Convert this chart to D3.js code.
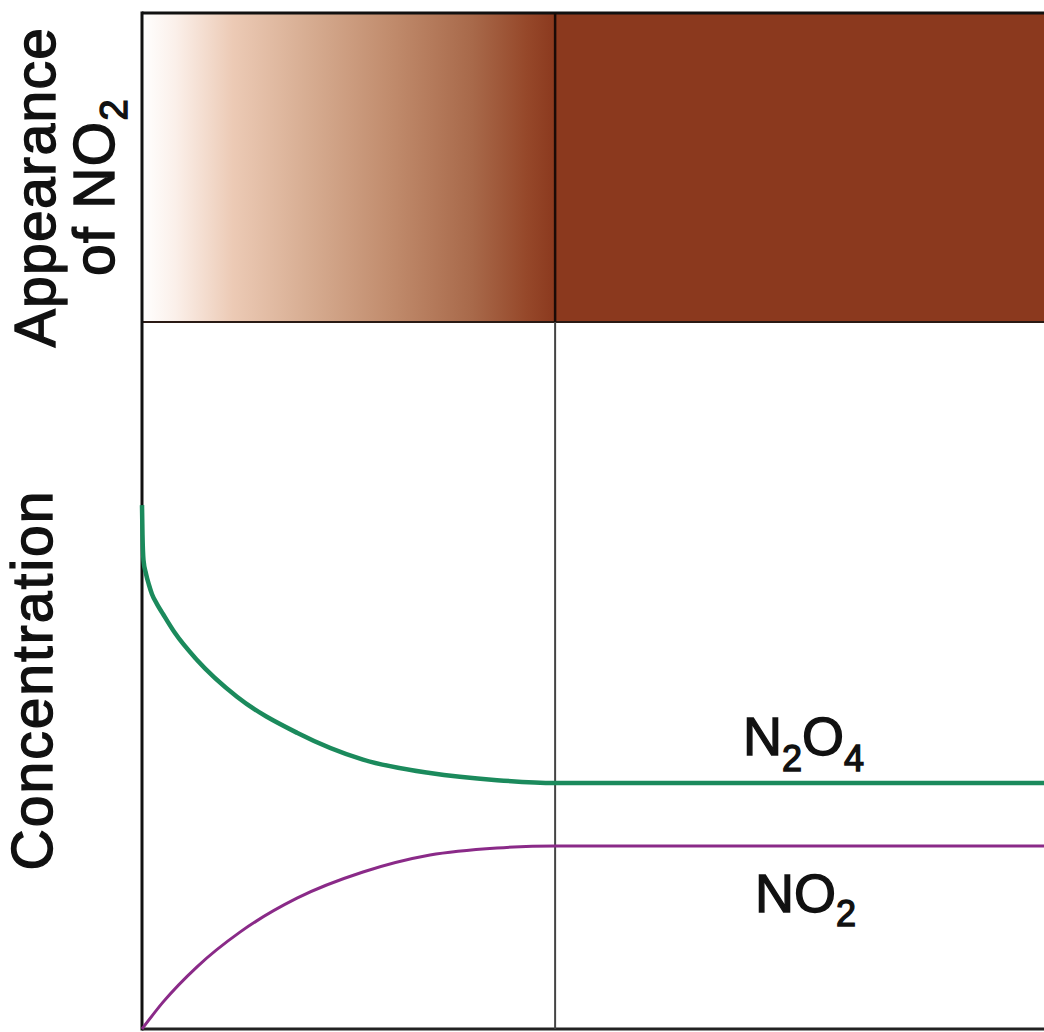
<!DOCTYPE html>
<html>
<head>
<meta charset="utf-8">
<script src="https://cdn.jsdelivr.net/npm/d3@7"></script>
<style>
  html, body { margin: 0; padding: 0; background: #fff; }
  svg { display: block; }
  text { font-family: "Liberation Sans", Arial, Helvetica, sans-serif; fill: #111; stroke: #111; stroke-width: 1.4px; }
</style>
</head>
<body>
<svg id="chart" width="1044" height="1032"></svg>
<script>
// ---- data ----
const timeDomain = [0, 100];
const concDomain = [0, 100];
const equilibriumTime = 45.8;

const n2o4Time  = [0, 0.055, 0.166, 0.443, 0.776, 1.109, 1.663, 2.328, 3.659, 6.098, 10.53, 17.18, 24.50, 31.93, 39.36, 45.8, 100];
const n2o4Conc  = [74.1, 69.9, 66.3, 64.4, 62.8, 61.5, 60.1, 58.7, 56.0, 52.2, 47.0, 41.9, 38.1, 36.2, 35.2, 34.8, 34.8];

const no2Time   = [0, 2.33, 6.10, 10.86, 17.18, 24.50, 31.93, 39.36, 45.8, 100];
const no2Conc   = [0, 3.8, 8.8, 13.7, 18.5, 22.2, 24.6, 25.6, 25.9, 25.9];

// ---- layout ----
const svg = d3.select("#chart");
const mLeft = 142, mRight = 1044, mTop = 13, panelBottom = 322, mBottom = 1029;

const x = d3.scaleLinear().domain(timeDomain).range([mLeft, mRight]);
const y = d3.scaleLinear().domain(concDomain).range([mBottom, panelBottom]);

// gradient for top panel
const defs = svg.append("defs");
const grad = defs.append("linearGradient").attr("id", "brownGrad")
  .attr("x1", "0%").attr("x2", "100%").attr("y1", "0%").attr("y2", "0%");
[[0, "#ffffff"], [0.08, "#fbf0ea"], [0.22, "#eccab5"], [0.4, "#d7ad92"], [0.6, "#c18c6d"],
 [0.8, "#a8694a"], [0.93, "#96482a"], [1, "#8b391e"]].forEach(([o, c]) =>
  grad.append("stop").attr("offset", o).attr("stop-color", c));

svg.append("rect")
  .attr("x", x(0)).attr("y", mTop)
  .attr("width", x(equilibriumTime) - x(0)).attr("height", panelBottom - mTop)
  .attr("fill", "url(#brownGrad)");
svg.append("rect")
  .attr("x", x(equilibriumTime)).attr("y", mTop)
  .attr("width", x(100) - x(equilibriumTime)).attr("height", panelBottom - mTop)
  .attr("fill", "#8b391e");

// frame lines
svg.append("line").attr("x1", mLeft).attr("x2", mRight).attr("y1", mTop).attr("y2", mTop)
  .attr("stroke", "#111").attr("stroke-width", 3);
svg.append("line").attr("x1", mLeft).attr("x2", mRight).attr("y1", panelBottom).attr("y2", panelBottom)
  .attr("stroke", "#2a1a14").attr("stroke-width", 2);
svg.append("line").attr("x1", mLeft).attr("x2", mRight).attr("y1", mBottom).attr("y2", mBottom)
  .attr("stroke", "#222").attr("stroke-width", 3);
// equilibrium vertical line
svg.append("line").attr("x1", x(equilibriumTime)).attr("x2", x(equilibriumTime))
  .attr("y1", mTop).attr("y2", panelBottom)
  .attr("stroke", "#1a0a06").attr("stroke-width", 2.5);
svg.append("line").attr("x1", x(equilibriumTime)).attr("x2", x(equilibriumTime))
  .attr("y1", panelBottom).attr("y2", mBottom)
  .attr("stroke", "#444").attr("stroke-width", 2);
// left axis
svg.append("line").attr("x1", mLeft).attr("x2", mLeft).attr("y1", mTop - 1.5).attr("y2", mBottom + 1.5)
  .attr("stroke", "#111").attr("stroke-width", 3);

// curves
const line = d3.line().x(d => x(d[0])).y(d => y(d[1])).curve(d3.curveMonotoneX);
svg.append("path")
  .datum(n2o4Time.map((t, i) => [t, n2o4Conc[i]]))
  .attr("d", line).attr("fill", "none")
  .attr("stroke", "#1b8a5c").attr("stroke-width", 4.5);
svg.append("path")
  .datum(no2Time.map((t, i) => [t, no2Conc[i]]))
  .attr("d", line).attr("fill", "none")
  .attr("stroke", "#8a2a88").attr("stroke-width", 3);

// series labels
const l1 = svg.append("text").attr("x", 743).attr("y", 755).attr("font-size", 54);
l1.append("tspan").text("N");
l1.append("tspan").text("2").attr("font-size", 36).attr("dy", 16);
l1.append("tspan").text("O").attr("dy", -16);
l1.append("tspan").text("4").attr("font-size", 36).attr("dy", 16);

const l2 = svg.append("text").attr("x", 755).attr("y", 912).attr("font-size", 54);
l2.append("tspan").text("NO");
l2.append("tspan").text("2").attr("font-size", 36).attr("dy", 14);

// axis titles
const t1 = svg.append("g").attr("transform", "translate(55,187) rotate(-90)");
t1.append("text").attr("text-anchor", "middle").attr("font-size", 57)
  .attr("letter-spacing", 1.3).text("Appearance");
const t2 = t1.append("text").attr("text-anchor", "middle").attr("y", 59).attr("font-size", 57)
  .attr("letter-spacing", 1.3);
t2.append("tspan").text("of NO");
t2.append("tspan").text("2").attr("font-size", 38).attr("dy", 13);

svg.append("g").attr("transform", "translate(52,680) rotate(-90)")
  .append("text").attr("text-anchor", "middle").attr("font-size", 57)
  .attr("letter-spacing", 2).text("Concentration");
</script>
</body>
</html>
